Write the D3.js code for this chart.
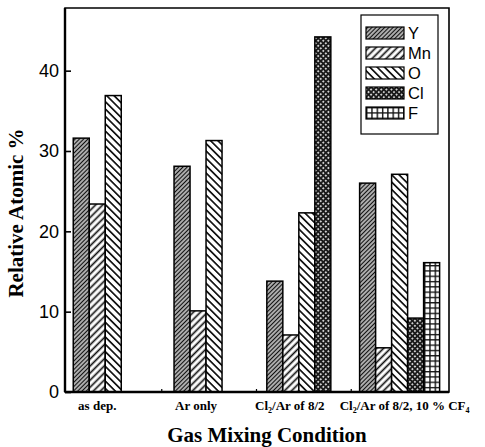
<!DOCTYPE html>
<html>
<head>
<meta charset="utf-8">
<script src="https://cdn.jsdelivr.net/npm/d3@7"></script>
<style>
  body { margin: 0; background: #fff; }
</style>
</head>
<body>
<script>
  // Data
  const conditions = ["as dep.", "Ar only", "Cl2/Ar of 8/2", "Cl2/Ar of 8/2, 10 % CF4"];
  const elements = ["Y", "Mn", "O", "Cl", "F"];
  const valY  = [31.6, 28.1, 13.8, 26.0];
  const valMn = [23.4, 10.1, 7.1, 5.5];
  const valO  = [36.9, 31.3, 22.3, 27.1];
  const valCl = [null, null, 44.2, 9.2];
  const valF  = [null, null, null, 16.1];
  const yTicks = [0, 10, 20, 30, 40];
  const xMinorTicks = [0.64, 1.58, 2.52];

  const series = { Y: valY, Mn: valMn, O: valO, Cl: valCl, F: valF };

  const width = 485, height = 447;
  const plotL = 65, plotR = 449, plotT = 8, plotB = 392;
  const barW = 16;

  const svg = d3.select("body").append("svg")
    .attr("width", width)
    .attr("height", height);

  // Hatch patterns
  const defs = svg.append("defs");
  function hatch(id, size, angle, sw) {
    const p = defs.append("pattern").attr("id", id)
      .attr("patternUnits", "userSpaceOnUse")
      .attr("width", size).attr("height", size)
      .attr("patternTransform", `rotate(${angle})`);
    p.append("rect").attr("width", size).attr("height", size).attr("fill", "#fff");
    p.append("line").attr("x1", size / 2).attr("y1", 0).attr("x2", size / 2).attr("y2", size)
      .attr("stroke", "#111").attr("stroke-width", sw);
  }
  hatch("pY", 3, 45, 1.7);
  hatch("pMn", 5, 45, 1.7);
  hatch("pO", 5.2, -45, 1.7);

  const pCl = defs.append("pattern").attr("id", "pCl")
    .attr("patternUnits", "userSpaceOnUse")
    .attr("width", 3.6).attr("height", 3.6)
    .attr("patternTransform", "rotate(45)");
  pCl.append("rect").attr("width", 3.6).attr("height", 3.6).attr("fill", "#1a1a1a");
  pCl.append("rect").attr("x", 1).attr("y", 1).attr("width", 1.6).attr("height", 1.6).attr("fill", "#fff");

  const pF = defs.append("pattern").attr("id", "pF")
    .attr("patternUnits", "userSpaceOnUse")
    .attr("width", 5.3).attr("height", 5.3);
  pF.append("rect").attr("width", 5.3).attr("height", 5.3).attr("fill", "#fff");
  pF.append("path").attr("d", "M0,0.7H5.3M0.7,0V5.3").attr("stroke", "#111").attr("stroke-width", 1.4);

  const fills = { Y: "url(#pY)", Mn: "url(#pMn)", O: "url(#pO)", Cl: "url(#pCl)", F: "url(#pF)" };

  // Scales
  const x = d3.scaleLinear().domain([-0.32, 3.49]).range([plotL, plotR]);
  const y = d3.scaleLinear().domain([0, 47.8]).range([plotB, plotT]);

  // Bars, each group centered on its condition
  conditions.forEach((c, i) => {
    const present = elements.filter(e => series[e][i] != null);
    const start = x(i) - present.length * barW / 2;
    svg.append("g").selectAll("rect")
      .data(present)
      .join("rect")
      .attr("x", (e, k) => start + k * barW)
      .attr("y", e => y(series[e][i]))
      .attr("width", barW)
      .attr("height", e => plotB - y(series[e][i]))
      .attr("fill", e => fills[e])
      .attr("stroke", "#000")
      .attr("stroke-width", 1.5);
  });

  // Frame
  svg.append("path")
    .attr("d", `M${plotL},${plotT}H${plotR}V${plotB}H${plotL}Z`)
    .attr("fill", "none").attr("stroke", "#000").attr("stroke-width", 1.6);
  svg.append("line").attr("x1", plotL).attr("x2", plotL).attr("y1", plotT).attr("y2", plotB)
    .attr("stroke", "#000").attr("stroke-width", 2.4);
  svg.append("line").attr("x1", plotL).attr("x2", plotR).attr("y1", plotB).attr("y2", plotB)
    .attr("stroke", "#000").attr("stroke-width", 2.4);

  // Y axis (ticks pointing inward)
  const yAxis = svg.append("g").attr("transform", `translate(${plotL},0)`)
    .call(d3.axisRight(y).tickValues(yTicks).tickSize(6).tickFormat(""));
  yAxis.select(".domain").remove();
  yAxis.selectAll("line").attr("stroke-width", 1.6);

  svg.append("g").selectAll("text")
    .data(yTicks)
    .join("text")
    .attr("x", plotL - 6)
    .attr("y", d => y(d))
    .attr("dy", "0.36em")
    .attr("text-anchor", "end")
    .attr("font-family", "Liberation Sans, Arial, sans-serif")
    .attr("font-size", 18)
    .text(d => d);

  // X minor ticks
  svg.append("g").selectAll("line")
    .data(xMinorTicks)
    .join("line")
    .attr("x1", d => x(d)).attr("x2", d => x(d))
    .attr("y1", plotB).attr("y2", plotB - 3)
    .attr("stroke", "#000").attr("stroke-width", 1.2);

  // X category labels
  const xl = svg.append("g").selectAll("text")
    .data(conditions)
    .join("text")
    .attr("x", (d, i) => x(i) + [0, -2, -9, 5][i])
    .attr("y", 410)
    .attr("text-anchor", "middle")
    .attr("font-family", "Liberation Serif, Times New Roman, serif")
    .attr("font-weight", "bold")
    .attr("font-size", 13);
  xl.each(function(d) {
    const t = d3.select(this);
    if (d.startsWith("Cl2")) {
      t.append("tspan").text("Cl");
      t.append("tspan").attr("font-size", 8).attr("dy", 3).text("2");
      const rest = d.slice(3);
      if (rest.endsWith("CF4")) {
        t.append("tspan").attr("dy", -3).text(rest.slice(0, -1));
        t.append("tspan").attr("font-size", 8).attr("dy", 3).text("4");
      } else {
        t.append("tspan").attr("dy", -3).text(rest);
      }
    } else {
      t.text(d);
    }
  });

  // Axis titles
  svg.append("text")
    .attr("transform", "translate(23,213) rotate(-90)")
    .attr("text-anchor", "middle")
    .attr("font-family", "Liberation Serif, Times New Roman, serif")
    .attr("font-weight", "bold")
    .attr("font-size", 21)
    .text("Relative Atomic %");

  svg.append("text")
    .attr("x", 267).attr("y", 442)
    .attr("text-anchor", "middle")
    .attr("font-family", "Liberation Serif, Times New Roman, serif")
    .attr("font-weight", "bold")
    .attr("font-size", 21)
    .text("Gas Mixing Condition");

  // Legend
  const lg = svg.append("g");
  lg.append("rect").attr("x", 361).attr("y", 15).attr("width", 77).attr("height", 119)
    .attr("fill", "#fff").attr("stroke", "#000").attr("stroke-width", 1.2);
  const row = lg.selectAll("g.row")
    .data(elements)
    .join("g")
    .attr("transform", (d, i) => `translate(366,${27 + i * 20})`);
  row.append("rect").attr("width", 38).attr("height", 12)
    .attr("fill", d => fills[d]).attr("stroke", "#000").attr("stroke-width", 1.2);
  row.append("text").attr("x", 42).attr("y", 6).attr("dy", "0.36em")
    .attr("font-family", "Liberation Sans, Arial, sans-serif")
    .attr("font-size", 16.5)
    .text(d => d);
</script>
</body>
</html>
